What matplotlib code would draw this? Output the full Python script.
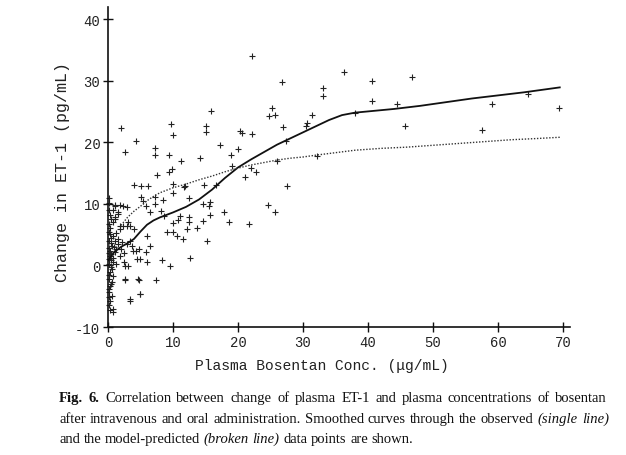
import matplotlib
matplotlib.use('Agg')
import matplotlib.pyplot as plt

plt.rcParams['axes.unicode_minus'] = False

# ---------------- data ----------------
obs_x = [22.2, 36.3, 46.8, 26.8, 40.6, 33.1, 33.1, 40.6, 59.1, 64.6, 69.4, 44.5, 45.7, 57.5, 38.0, 32.2,
         24.8, 25.2, 25.7, 31.4, 30.6, 30.5, 26.9, 27.4, 27.5, 15.8, 2.0, 2.6, 4.3, 7.2, 7.2, 7.5,
         9.4, 9.4, 9.7, 10.0, 11.2, 14.2, 15.1, 15.1, 17.2, 18.9, 20.0, 20.3, 20.6, 22.2, 22.0, 22.8,
         19.1, 26.0, 21.1, 4.0, 5.1, 6.2, 10.0, 11.8, 14.8, 16.6, 24.6, 25.7, 21.7, 18.6, 17.8, 15.7,
         15.5, 15.7, 15.2, 13.7, 12.6, 11.5, 9.5, 8.3, 7.4, 4.8, 4.9, 3.4, 2.6, 10.8, 10.0, 9.1,
         10.6, 8.6, 6.5, 5.1, 5.4, 5.8, 7.2, 7.2, 8.2, 8.5, 10.0, 11.7, 14.6, 14.6, 12.5, 12.2,
         6.0, 6.5, 5.8, 6.0, 4.8, 4.5, 2.9, 3.1, 1.5, 1.1, 1.1, 1.8, 3.4, 3.8, 3.1, 2.6,
         12.5, 11.1, 12.5, 10.0, 9.8,
         0.1, 0.2, 1.1, 0.8, 1.8, 2.3, 1.5, 0.3, 1.1, 0.8, 1.8, 2.3, 2.9, 3.4, 4.0, 0.3,
         0.1, 0.3, 0.8, 1.5, 2.1, 2.9, 3.7, 0.6, 0.2, 0.3, 1.1, 1.8, 0.3, 0.1, 0.8, 2.5,
         0.6, 0.3, 0.8, 0.1, 0.6, 0.3, 0.2, 0.1, 0.6, 0.3, 0.8, 0.8, 0.2, 2.6, 4.6, 3.4,
         4.9, 4.3, 4.9, 0.2, 0.5, 0.4, 0.9, 1.3, 0.5, 0.2, 0.4, 1.2, 0.5, 0.7, 1.0, 0.1,
         0.4, 0.2, 0.1, 0.4, 0.2, 1.3, 1.6, 2.0, 2.5, 0.1, 0.3]
obs_y = [34.0, 31.4, 30.6, 29.8, 29.9, 28.8, 27.5, 26.7, 26.2, 27.8, 25.5, 26.2, 22.6, 22.0, 24.7, 17.8,
         24.2, 25.5, 24.4, 24.4, 23.1, 22.6, 22.4, 20.2, 12.9, 25.1, 22.3, 18.4, 20.2, 19.0, 17.9, 14.7,
         17.9, 15.1, 22.9, 21.2, 16.9, 17.4, 22.6, 21.7, 19.5, 17.9, 18.9, 21.8, 21.5, 21.3, 15.8, 15.2,
         16.1, 16.9, 14.4, 13.1, 12.9, 12.9, 13.2, 12.9, 13.1, 13.1, 9.8, 8.7, 6.7, 7.0, 8.7, 10.3,
         9.6, 8.2, 4.0, 6.1, 1.2, 4.3, -0.1, 0.9, -2.4, -2.4, -4.6, -5.8, -2.4, 7.4, 5.4, 5.4,
         4.8, 8.0, 8.7, 11.1, 10.5, 9.6, 11.1, 10.0, 8.8, 10.6, 11.8, 12.7, 10.0, 7.2, 7.9, 5.9,
         4.8, 3.1, 2.2, 0.6, 2.7, 1.0, 9.5, 7.0, 8.3, 7.9, 9.6, 5.9, 4.0, 2.3, -0.1, -0.1,
         10.9, 8.0, 7.0, 6.9, 15.6,
         11.0, 10.2, 9.8, 9.0, 9.8, 9.6, 8.6, 8.2, 7.5, 7.0, 6.4, 6.4, 6.4, 6.4, 5.9, 6.0,
         5.5, 5.1, 4.8, 4.3, 3.8, 3.5, 3.2, 3.2, 2.8, 2.3, 2.1, 1.5, 1.5, 1.0, 0.6, 0.5,
         -0.6, -1.0, -1.7, -2.2, -2.7, -3.3, -3.8, -4.3, -5.0, -5.8, -7.1, -7.6, -6.5, -2.2, -2.2, -5.5,
         -4.6, 2.3, 1.0, 4.0, 4.4, 3.6, 3.0, 2.6, 1.9, 0.3, -0.2, 0.2, 0.9, 1.2, 4.0, 6.8,
         7.6, 9.0, -1.5, -3.0, -5.2, 5.2, 3.4, 2.6, 2.0, 2.0, -7.2]

smooth_obs_x = [0, 1, 2, 3, 4, 5, 6, 7, 8, 10, 12, 14, 16, 18, 20, 22, 24, 26, 28, 30, 32, 34,
                36, 38, 40, 44, 48, 52, 56, 60, 64, 69.5]
smooth_obs_y = [0.8, 2.2, 3.0, 3.6, 4.3, 5.5, 6.6, 7.3, 7.8, 8.6, 9.5, 10.7, 12.3, 14.2, 15.9, 17.2,
                18.4, 19.6, 20.6, 21.6, 22.6, 23.6, 24.4, 24.8, 25.0, 25.4, 25.9, 26.5, 27.1, 27.6,
                28.1, 28.9]

smooth_pred_x = [2, 3, 4, 5, 6, 7, 8, 10, 12, 14, 16, 18, 20, 22, 24, 26, 28, 30, 32, 35, 38, 42,
                 46, 50, 54, 58, 62, 66, 69.5]
smooth_pred_y = [6.5, 7.8, 8.8, 9.6, 10.5, 11.2, 11.8, 12.6, 13.2, 13.9, 14.5, 15.2, 15.8, 16.3,
                 16.7, 17.1, 17.4, 17.6, 17.9, 18.3, 18.7, 19.0, 19.2, 19.5, 19.8, 20.1, 20.4,
                 20.6, 20.8]

xticks = [0, 10, 20, 30, 40, 50, 60, 70]
yticks = [-10, 0, 10, 20, 30, 40]
xlabel = "Plasma Bosentan Conc. (\u03bcg/mL)"
ylabel = "Change in ET-1 (pg/mL)"
caption = [
    [("Fig. 6.", "bold", "normal"),
     ("Correlation between change of plasma ET-1 and plasma concentrations of bosentan", "normal", "normal")],
    [("after intravenous and oral administration. Smoothed curves through the observed", "normal", "normal"),
     ("(single line)", "normal", "italic")],
    [("and the model-predicted", "normal", "normal"),
     ("(broken line)", "normal", "italic"),
     ("data points are shown.", "normal", "normal")],
]

# ---------------- figure ----------------
W, H = 626, 456
fig = plt.figure(figsize=(W / 100, H / 100), dpi=100)
fig.patch.set_facecolor('white')
mono = ['Liberation Mono', 'DejaVu Sans Mono']
serif = ['Liberation Serif', 'DejaVu Serif']

ax = fig.add_axes([108 / W, 128 / H, 461.5 / W, 320.3 / H])
ax.set_xlim(0, 71)
ax.set_ylim(-10, 42)
for s in ['top', 'right']:
    ax.spines[s].set_visible(False)
for s in ['left', 'bottom']:
    ax.spines[s].set_linewidth(1.2)
    ax.spines[s].set_color('#111111')

ax.plot(obs_x, obs_y, linestyle='none', marker='+', markersize=5, markeredgewidth=0.8,
        color='#222222', clip_on=False)
ax.plot(smooth_obs_x, smooth_obs_y, color='#111111', linewidth=1.3)
ax.plot(smooth_pred_x, smooth_pred_y, color='#333333', linewidth=1.0, linestyle=(0, (1, 1.2)))

ax.set_xticks(xticks)
ax.set_yticks(yticks)
ax.tick_params(direction='inout', length=7, width=1, color='#111111', labelsize=10, pad=2)
for lab in ax.get_xticklabels() + ax.get_yticklabels():
    lab.set_family(mono)
    lab.set_color('#222222')

fig.text(322 / W, 1 - 366 / H, xlabel, ha='center', va='center', fontsize=10.5,
         family=mono, color='#222222')
fig.text(63 / W, 1 - 172 / H, ylabel, ha='center', va='center', rotation=90, fontsize=12,
         family=mono, color='#222222')

# caption (justified like the printed figure)
renderer = fig.canvas.get_renderer()


def width_of(s, size, weight, style):
    t = fig.text(0, 0, s, fontsize=size, family=serif, fontweight=weight, fontstyle=style)
    w = t.get_window_extent(renderer=renderer).width
    t.remove()
    return w


def words_of(line):
    out = []
    for txt, weight, style in line:
        for w in txt.split(' '):
            out.append((w, weight, style))
    return out


def line_width(line, size):
    ws = words_of(line)
    sp = width_of("a a", size, "normal", "normal") - width_of("aa", size, "normal", "normal")
    return sum(width_of(w, size, wt, st) for w, wt, st in ws) + sp * (len(ws) - 1)


base = 10.0
size = min(base * 548 / line_width(caption[0], base), base * 550 / line_width(caption[1], base))
sp = width_of("a a", size, "normal", "normal") - width_of("aa", size, "normal", "normal")

baselines = [402, 423, 443]
targets = [548, 550, None]
for line, yb, tw in zip(caption, baselines, targets):
    ws = words_of(line)
    widths = [width_of(w, size, wt, st) for w, wt, st in ws]
    gap = sp
    if tw is not None:
        gap = (tw - sum(widths)) / (len(ws) - 1)
    x = 59
    for (w, wt, st), wd in zip(ws, widths):
        fig.text(x / W, 1 - yb / H, w, fontsize=size, family=serif, fontweight=wt,
                 fontstyle=st, ha='left', va='baseline', color='#111111')
        x += wd + gap

fig.savefig('out.png', dpi=100, facecolor='white')
